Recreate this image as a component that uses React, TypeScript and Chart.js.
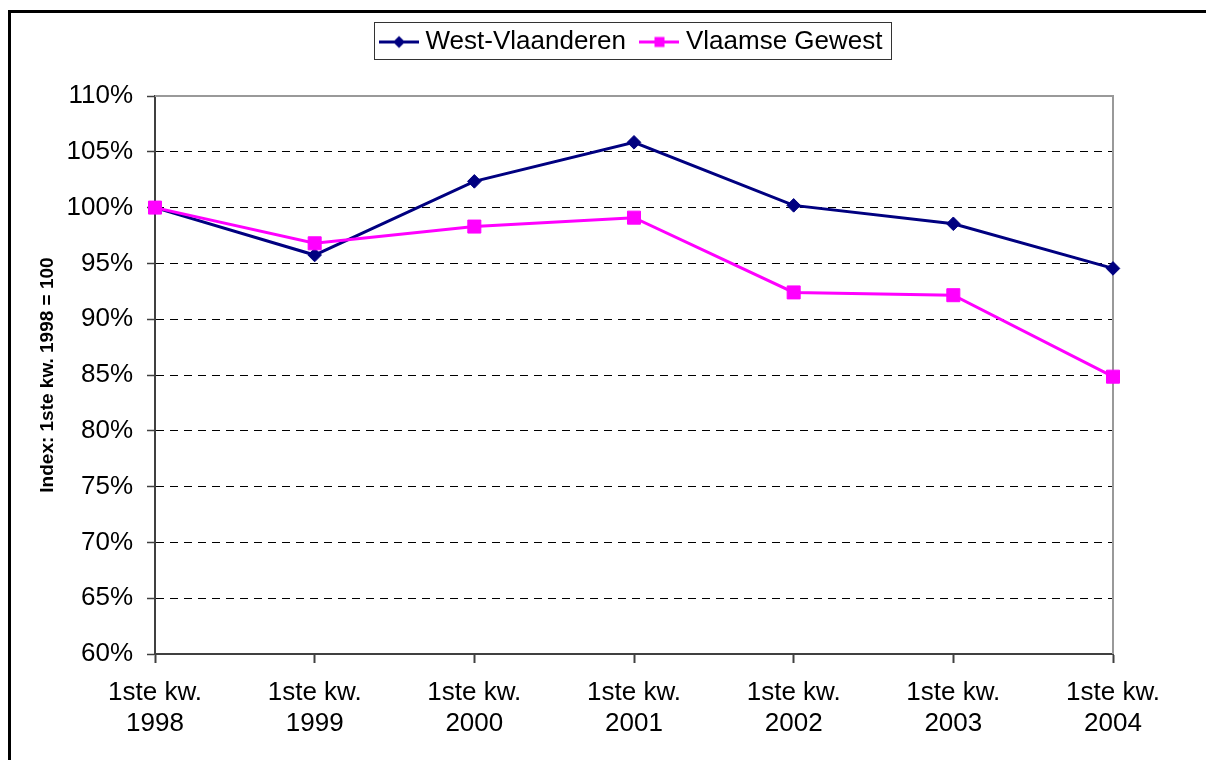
import React, { useEffect, useRef } from 'react';
import { Chart, registerables } from 'chart.js';

Chart.register(...registerables);

// ---- data ----
const categories: string[][] = [
  ['1ste kw.', '1998'],
  ['1ste kw.', '1999'],
  ['1ste kw.', '2000'],
  ['1ste kw.', '2001'],
  ['1ste kw.', '2002'],
  ['1ste kw.', '2003'],
  ['1ste kw.', '2004'],
];
const westVlaanderen: number[] = [100, 95.75, 102.35, 105.85, 100.2, 98.55, 94.55];
const vlaamseGewest: number[] = [100, 96.8, 98.3, 99.1, 92.4, 92.15, 84.85];
const seriesNames: string[] = ['West-Vlaanderen', 'Vlaamse Gewest'];
const yAxisTitle = 'Index: 1ste kw. 1998 = 100';
const yMin = 60;
const yMax = 110;
const yStep = 5;

// ---- style ----
const FONT = "'Liberation Sans', Arial, sans-serif";
const NAVY = '#000080';
const MAGENTA = '#FF00FF';

function makeSwatch(color: string, shape: 'diamond' | 'square'): HTMLCanvasElement {
  const c = document.createElement('canvas');
  c.width = 40;
  c.height = 15;
  const ctx = c.getContext('2d')!;
  ctx.fillStyle = color;
  ctx.fillRect(0, 6, 40, 3);
  ctx.beginPath();
  if (shape === 'diamond') {
    ctx.moveTo(20, 1.5);
    ctx.lineTo(26, 7.5);
    ctx.lineTo(20, 13.5);
    ctx.lineTo(14, 7.5);
    ctx.closePath();
    ctx.fill();
  } else {
    ctx.fillRect(15, 2.5, 10, 10);
  }
  return c;
}

const framePlugin = {
  id: 'plotFrame',
  beforeDatasetsDraw(chart: any) {
    const { ctx, chartArea } = chart;
    const { left, top, right, bottom } = chartArea;
    ctx.save();
    ctx.strokeStyle = '#999999';
    ctx.lineWidth = 2;
    ctx.beginPath();
    ctx.moveTo(left, top);
    ctx.lineTo(right, top);
    ctx.lineTo(right, bottom);
    ctx.stroke();
    ctx.restore();
  },
};

const legendBoxPlugin = {
  id: 'legendBox',
  afterDraw(chart: any) {
    const lg = chart.legend;
    const hb = lg && lg.legendHitBoxes;
    if (!hb || !hb.length) return;
    const l = Math.min(...hb.map((h: any) => h.left)) - 12;
    const r = Math.max(...hb.map((h: any) => h.left + h.width)) + 8;
    const t = Math.min(...hb.map((h: any) => h.top)) - 7;
    const b = Math.max(...hb.map((h: any) => h.top + h.height)) + 4;
    const ctx = chart.ctx;
    ctx.save();
    ctx.strokeStyle = '#333333';
    ctx.lineWidth = 1;
    ctx.strokeRect(Math.round(l) + 0.5, Math.round(t) + 0.5, Math.round(r - l), Math.round(b - t));
    ctx.restore();
  },
};

export default function App() {
  const ref = useRef<HTMLCanvasElement | null>(null);

  useEffect(() => {
    if (!ref.current) return;
    const swatches = [makeSwatch(NAVY, 'diamond'), makeSwatch(MAGENTA, 'square')];
    const chart = new Chart(ref.current, {
      type: 'line',
      data: {
        labels: categories,
        datasets: [
          {
            label: seriesNames[0],
            data: westVlaanderen,
            borderColor: NAVY,
            backgroundColor: NAVY,
            borderWidth: 3,
            pointStyle: 'rectRot',
            pointRadius: 6.8,
            pointBorderWidth: 1,
            pointBackgroundColor: NAVY,
            pointBorderColor: NAVY,
            tension: 0,
            order: 1,
          },
          {
            label: seriesNames[1],
            data: vlaamseGewest,
            borderColor: MAGENTA,
            backgroundColor: MAGENTA,
            borderWidth: 3,
            pointStyle: 'rect',
            pointRadius: 9.2,
            pointBorderWidth: 1,
            pointBackgroundColor: MAGENTA,
            pointBorderColor: MAGENTA,
            tension: 0,
            order: 0,
          },
        ],
      },
      options: {
        responsive: false,
        animation: false,
        layout: { padding: { left: 36, right: 93, top: 9, bottom: 0 } },
        plugins: {
          tooltip: { enabled: false },
          title: {
            display: true,
            text: '',
            position: 'top',
            weight: 500,
            fullSize: false,
            padding: 0,
            font: { size: 31, lineHeight: 1 },
          },
          legend: {
            display: true,
            position: 'top',
            align: 'center',
            fullSize: false,
            labels: {
              font: { family: FONT, size: 26, lineHeight: 1.2 },
              color: '#000000',
              usePointStyle: true,
              pointStyleWidth: 27,
              padding: 20,
              generateLabels: (ch: any) =>
                ch.data.datasets.map((ds: any, i: number) => ({
                  text: ds.label,
                  pointStyle: swatches[i],
                  fillStyle: ds.borderColor,
                  strokeStyle: ds.borderColor,
                  lineWidth: 0,
                  hidden: false,
                  datasetIndex: i,
                  fontColor: '#000000',
                })),
            },
          },
        },
        scales: {
          x: {
            offset: false,
            grid: {
              offset: false,
              drawOnChartArea: false,
              drawTicks: true,
              tickLength: 9,
              tickColor: '#404040',
              tickWidth: 2,
              color: '#404040',
            },
            border: { display: true, color: '#404040', width: 2 },
            ticks: {
              autoSkip: false,
              maxRotation: 0,
              minRotation: 0,
              padding: 14,
              color: '#000000',
              font: { family: FONT, size: 26, lineHeight: 1.2 },
            },
            afterFit: (scale: any) => {
              scale.height = 106;
            },
          },
          y: {
            min: yMin,
            max: yMax,
            ticks: {
              stepSize: yStep,
              padding: 14,
              color: '#000000',
              font: { family: FONT, size: 26, lineHeight: 1.2 },
              callback: (v: any) => `${v}%`,
            },
            grid: {
              color: (c: any) =>
                c.tick && (c.tick.value === yMin || c.tick.value === yMax) ? 'rgba(0,0,0,0)' : '#000000',
              lineWidth: 1,
              drawTicks: true,
              tickLength: 8,
              tickColor: '#404040',
              tickWidth: 1.5,
              tickBorderDash: [],
            },
            border: { display: true, color: '#404040', width: 2, dash: [8, 6] },
            title: {
              display: true,
              text: yAxisTitle,
              color: '#000000',
              padding: 0,
              font: { family: FONT, size: 19, weight: 'bold', lineHeight: 1.2 },
            },
            afterFit: (scale: any) => {
              scale.width = 119;
            },
          },
        },
      },
      plugins: [framePlugin, legendBoxPlugin],
    } as any);
    return () => chart.destroy();
  }, []);

  return (
    <>
      <div
        style={{
          position: 'absolute',
          left: 8,
          top: 10,
          width: 1198,
          height: 750,
          borderLeft: '3px solid #000',
          borderTop: '3px solid #000',
          boxSizing: 'border-box',
        }}
      />
      <canvas
        ref={ref}
        width={1206}
        height={760}
        style={{ position: 'absolute', left: 0, top: 0, display: 'block' }}
      />
    </>
  );
}
